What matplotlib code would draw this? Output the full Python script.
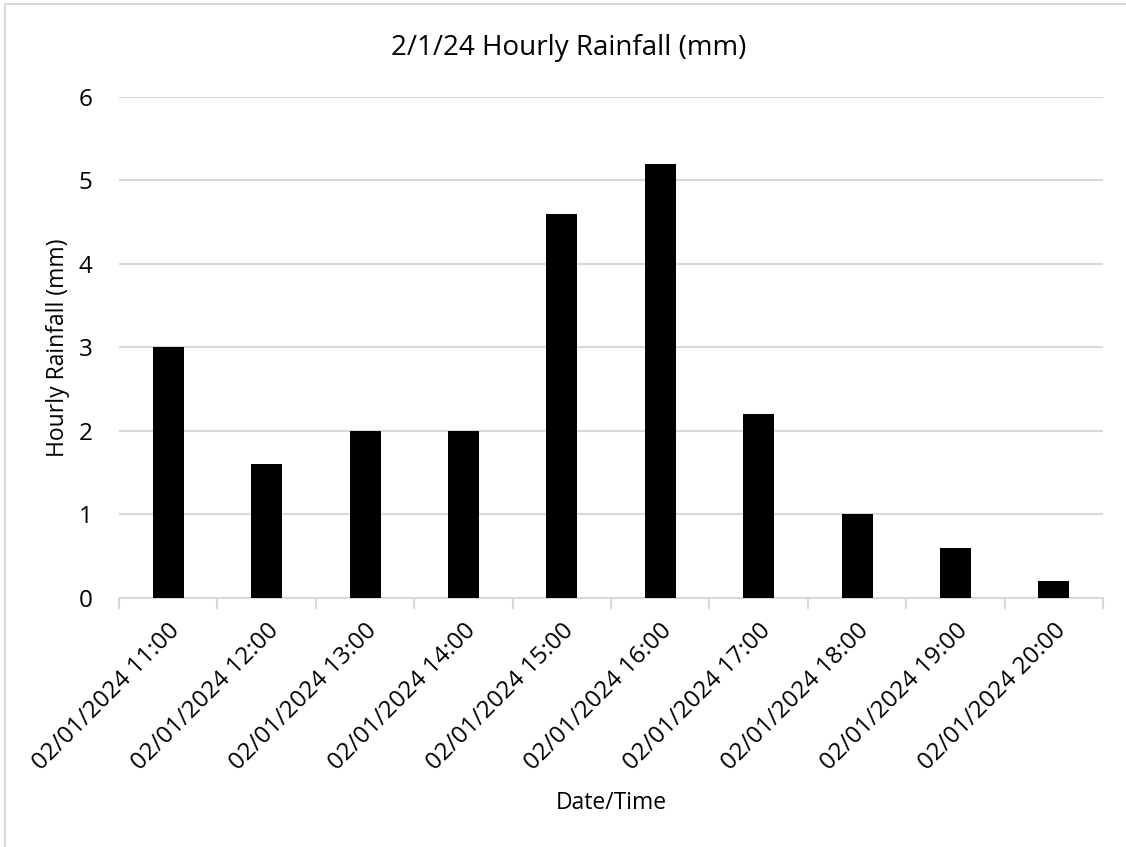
import numpy as np
import matplotlib.pyplot as plt
from matplotlib.patches import Rectangle

plt.rcParams['font.family'] = ['Open Sans', 'DejaVu Sans']

# data
times = ['02/01/2024 11:00', '02/01/2024 12:00', '02/01/2024 13:00',
         '02/01/2024 14:00', '02/01/2024 15:00', '02/01/2024 16:00',
         '02/01/2024 17:00', '02/01/2024 18:00', '02/01/2024 19:00',
         '02/01/2024 20:00']
rain = [3.0, 1.6, 2.0, 2.0, 4.6, 5.2, 2.2, 1.0, 0.6, 0.2]
yticks = [0, 1, 2, 3, 4, 5, 6]

fig = plt.figure(figsize=(11.26, 8.47), dpi=100)
ax = fig.add_axes([0.1057, 0.294, 0.8739, 0.5915])

# outer chart border (right and bottom edges fall off the image)
fig.patches.append(Rectangle((5 / 1126, -0.01), 1.02, 1 - 4 / 847 + 0.01,
                             transform=fig.transFigure, fill=False,
                             edgecolor='#d9d9d9', linewidth=1.5))

x = np.arange(len(rain))
ax.bar(x, rain, width=0.315, color='black', zorder=3)

ax.set_xlim(-0.5, len(rain) - 0.5)
ax.set_ylim(0, 6)
ax.set_yticks(yticks)
ax.yaxis.grid(True, color='#d9d9d9', linewidth=1.5, zorder=0)
ax.tick_params(axis='y', length=0, pad=19, labelsize=17.5)

ax.set_xticks(x)
ax.set_xticklabels(times, rotation=45, ha='right', rotation_mode='anchor', fontsize=17.5)
ax.tick_params(axis='x', which='major', length=0, pad=15)
ax.set_xticks(np.arange(len(rain) + 1) - 0.5, minor=True)
ax.tick_params(axis='x', which='minor', length=8, width=1.5, color='#d9d9d9')

for s in ['top', 'right', 'left']:
    ax.spines[s].set_visible(False)
ax.spines['bottom'].set_color('#d9d9d9')
ax.spines['bottom'].set_linewidth(1.5)

fig.text(569 / 1126, 1 - 55 / 847, '2/1/24 Hourly Rainfall (mm)', fontsize=20,
         ha='center', va='baseline')
ax.set_ylabel('Hourly Rainfall (mm)', fontsize=16.5, labelpad=6)
ax.set_xlabel('Date/Time', fontsize=16.5, va='baseline')
ax.xaxis.set_label_coords(0.5, -0.421)

fig.savefig('out.png', dpi=100)
